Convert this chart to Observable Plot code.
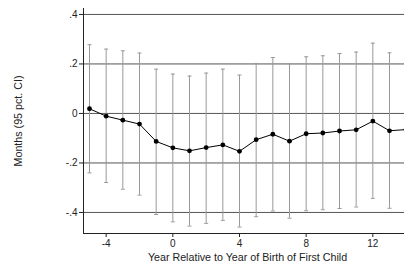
<!DOCTYPE html>
<html>
<head>
<meta charset="utf-8">
<script src="https://cdn.jsdelivr.net/npm/d3@7"></script>
<script src="https://cdn.jsdelivr.net/npm/@observablehq/plot@0.6"></script>
<style>
  html, body { margin: 0; padding: 0; background: white; overflow: hidden; }
</style>
</head>
<body>
<div id="chart"></div>
<script>
// Data
const years = [-5, -4, -3, -2, -1, 0, 1, 2, 3, 4, 5, 6, 7, 8, 9, 10, 11, 12, 13, 14];
const estimates = [0.019, -0.011, -0.027, -0.043, -0.113, -0.139, -0.151, -0.138, -0.127, -0.153, -0.106, -0.084, -0.112, -0.082, -0.079, -0.071, -0.066, -0.031, -0.070, -0.065];
const ciHigh = [0.278, 0.260, 0.253, 0.244, 0.179, 0.159, 0.151, 0.163, 0.179, 0.155, 0.202, 0.226, 0.201, 0.229, 0.233, 0.242, 0.248, 0.284, 0.245, 0.253];
const ciLow = [-0.240, -0.279, -0.306, -0.330, -0.408, -0.438, -0.455, -0.444, -0.432, -0.459, -0.417, -0.394, -0.423, -0.393, -0.389, -0.384, -0.378, -0.343, -0.383, -0.377];

const yTicks = [-0.4, -0.2, 0, 0.2, 0.4];
const yTickLabels = ["-.4", "-.2", "0", ".2", ".4"];
const xTicks = [-4, 0, 4, 8, 12];
const xTickLabels = ["-4", "0", "4", "8", "12"];

const yTitle = "Months (95 pct. CI)";
const xTitle = "Year Relative to Year of Birth of First Child";

const xDomain = [-5.36, 13.9];
const yDomain = [-0.485, 0.424];

const data = years.map((year, i) => ({year, est: estimates[i], lo: ciLow[i], hi: ciHigh[i]}));

const cap = {
  draw(context) {
    context.moveTo(-2, 0);
    context.lineTo(2, 0);
  }
};

const chart = Plot.plot({
  width: 404,
  height: 265,
  marginLeft: 83,
  marginRight: 0,
  marginTop: 8,
  marginBottom: 32,
  style: {fontFamily: "'Liberation Sans', Arial, Helvetica, sans-serif", fontSize: "10px", color: "#222", background: "white"},
  x: {domain: xDomain},
  y: {domain: yDomain},
  marks: [
    Plot.ruleY(yTicks, {stroke: "#555", strokeWidth: 1}),
    Plot.ruleX(data, {x: "year", y1: "lo", y2: "hi", stroke: "#999", strokeWidth: 1}),
    Plot.dot(data, {x: "year", y: "hi", symbol: cap, stroke: "#999", strokeWidth: 1}),
    Plot.dot(data, {x: "year", y: "lo", symbol: cap, stroke: "#999", strokeWidth: 1}),
    Plot.line(data, {x: "year", y: "est", stroke: "black", strokeWidth: 1}),
    Plot.dot(data, {x: "year", y: "est", r: 2.4, fill: "black", stroke: "none"}),
    Plot.ruleX([xDomain[0]], {stroke: "#222", strokeWidth: 1}),
    Plot.ruleY([yDomain[0]], {stroke: "#222", strokeWidth: 1}),
    Plot.axisY({
      ticks: yTicks,
      tickFormat: d => yTickLabels[yTicks.indexOf(d)],
      tickSize: 4,
      tickPadding: 2,
      label: null
    }),
    Plot.axisX({
      ticks: xTicks,
      tickFormat: d => xTickLabels[xTicks.indexOf(d)],
      tickSize: 4,
      tickPadding: 2,
      label: null
    }),
    Plot.text([yTitle], {
      frameAnchor: "left",
      rotate: -90,
      dx: -65,
      textAnchor: "middle",
      lineAnchor: "middle",
      fontSize: 10.7,
      fill: "#222"
    }),
    Plot.text([xTitle], {
      frameAnchor: "bottom",
      dx: 3.5,
      dy: 24,
      textAnchor: "middle",
      lineAnchor: "middle",
      fontSize: 10.7,
      fill: "#222"
    })
  ]
});

document.getElementById("chart").appendChild(chart);
</script>
</body>
</html>
